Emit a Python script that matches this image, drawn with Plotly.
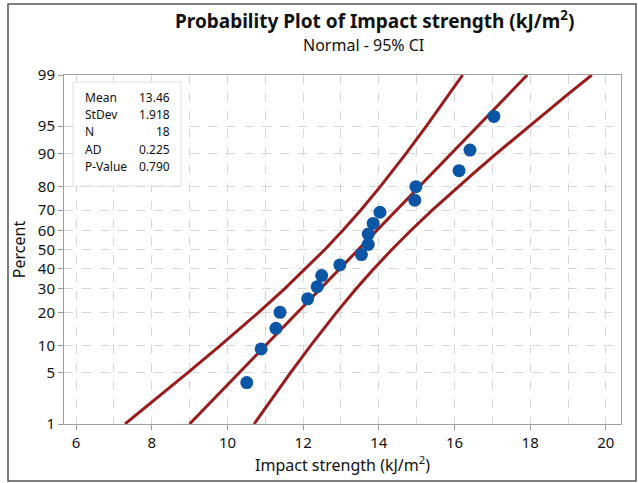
import plotly.graph_objects as go
from statistics import NormalDist

# ---- data ----
strength = [10.51, 10.89, 11.28, 11.39, 12.12, 12.37, 12.49, 12.97, 13.54,
            13.72, 13.72, 13.85, 14.03, 14.95, 14.98, 16.12, 16.41, 17.04]
point_pct = [3.80, 9.24, 14.67, 20.11, 25.54, 30.98, 36.41, 41.85, 47.28,
             52.72, 58.15, 63.59, 69.02, 74.46, 79.89, 85.33, 90.76, 96.20]

fit_pct = [1, 99]
fit_x = [8.998, 17.922]

band_pct = [1, 2, 3, 5, 10, 15, 20, 30, 40, 50, 60, 70, 80, 85, 90, 95, 97, 98, 99]
band_lower = [7.292, 7.959, 8.378, 8.946, 9.806, 10.374, 10.815, 11.509, 12.074, 12.574,
              13.046, 13.521, 14.043, 14.349, 14.722, 15.256, 15.593, 15.837, 16.216]
band_upper = [10.704, 11.083, 11.327, 11.664, 12.198, 12.571, 12.877, 13.399, 13.874, 14.346,
              14.846, 15.411, 16.105, 16.546, 17.114, 17.974, 18.542, 18.961, 19.628]

y_ticks = [1, 5, 10, 20, 30, 40, 50, 60, 70, 80, 90, 95, 99]

stat_labels = ["Mean", "StDev", "N", "AD", "P-Value"]
stat_values = ["13.46", "1.918", "18", "0.225", "0.790"]

nd = NormalDist()
def z(p):
    return nd.inv_cdf(p / 100.0)

FONT = "Noto Sans"
RED = "#9a1b1b"
BLUE = "#0a55a5"
TXT = "#111111"

fig = go.Figure()
fig.add_trace(go.Scatter(x=band_lower, y=[z(p) for p in band_pct], mode="lines",
                         line=dict(color=RED, width=3), hoverinfo="skip"))
fig.add_trace(go.Scatter(x=band_upper, y=[z(p) for p in band_pct], mode="lines",
                         line=dict(color=RED, width=3), hoverinfo="skip"))
fig.add_trace(go.Scatter(x=fit_x, y=[z(p) for p in fit_pct], mode="lines",
                         line=dict(color=RED, width=3), hoverinfo="skip"))
fig.add_trace(go.Scatter(x=strength, y=[z(p) for p in point_pct], mode="markers",
                         marker=dict(color=BLUE, size=13)))

W, H = 638, 483
L, R, T, B = 64, 17, 75, 59
pw, ph = W - L - R, H - T - B

def px(xp):
    return (xp - L) / pw

def py(yp):
    return (H - B - yp) / ph

fig.update_layout(
    width=W, height=H,
    margin=dict(l=L, r=R, t=T, b=B),
    paper_bgcolor="white", plot_bgcolor="white",
    showlegend=False,
    font=dict(family=FONT, color=TXT),
    xaxis=dict(
        range=[5.68, 20.4], tickmode="array", tickvals=[6, 8, 10, 12, 14, 16, 18, 20],
        ticks="outside", ticklen=5, tickcolor="#999", tickfont=dict(size=15, color=TXT),
        showline=True, linecolor="#a0a0a0", mirror=True, zeroline=False,
        showgrid=True, gridcolor="#d6d6d6", griddash="dash",
        minor=dict(dtick=1, tick0=6, showgrid=True, gridcolor="#d6d6d6", griddash="dash"),
        title=dict(text="Impact strength (kJ/m<sup>2</sup>)", font=dict(size=16, color=TXT), standoff=6),
    ),
    yaxis=dict(
        range=[z(1), z(99)], tickmode="array", tickvals=[z(p) for p in y_ticks],
        ticktext=[str(p) for p in y_ticks],
        ticks="outside", ticklen=5, tickcolor="#999", tickfont=dict(size=15, color=TXT),
        showline=True, linecolor="#a0a0a0", mirror=True, zeroline=False,
        showgrid=True, gridcolor="#d6d6d6", griddash="dash",
        title=dict(text="Percent", font=dict(size=16, color=TXT), standoff=8),
    ),
    shapes=[
        dict(type="rect", xref="paper", yref="paper", x0=px(8), x1=px(636), y0=py(481), y1=py(4),
             line=dict(color="#555", width=1.5), fillcolor="rgba(0,0,0,0)", layer="below"),
        dict(type="rect", xref="paper", yref="paper", x0=px(73), x1=px(181), y0=py(186), y1=py(82),
             line=dict(color="#e0e0e0", width=1), fillcolor="white", layer="above"),
    ],
)

anns = [
    dict(text="<b>Probability Plot of Impact strength (kJ/m<sup>2</sup>)</b>", x=px(374), y=py(20),
         xref="paper", yref="paper", showarrow=False, font=dict(size=19, color=TXT),
         xanchor="center", yanchor="middle"),
    dict(text="Normal - 95% CI", x=px(363), y=py(45), xref="paper", yref="paper", showarrow=False,
         font=dict(size=16, color=TXT), xanchor="center", yanchor="middle"),
]
row_y = [97, 114, 131, 149, 166]
for lab, val, ry in zip(stat_labels, stat_values, row_y):
    anns.append(dict(text=lab, x=px(83), y=py(ry), xref="paper", yref="paper", showarrow=False,
                     font=dict(size=12, color=TXT), xanchor="left", yanchor="middle"))
    anns.append(dict(text=val, x=px(172), y=py(ry), xref="paper", yref="paper", showarrow=False,
                     font=dict(size=12, color=TXT), xanchor="right", yanchor="middle"))
fig.update_layout(annotations=anns)

fig.write_html("out.html")
